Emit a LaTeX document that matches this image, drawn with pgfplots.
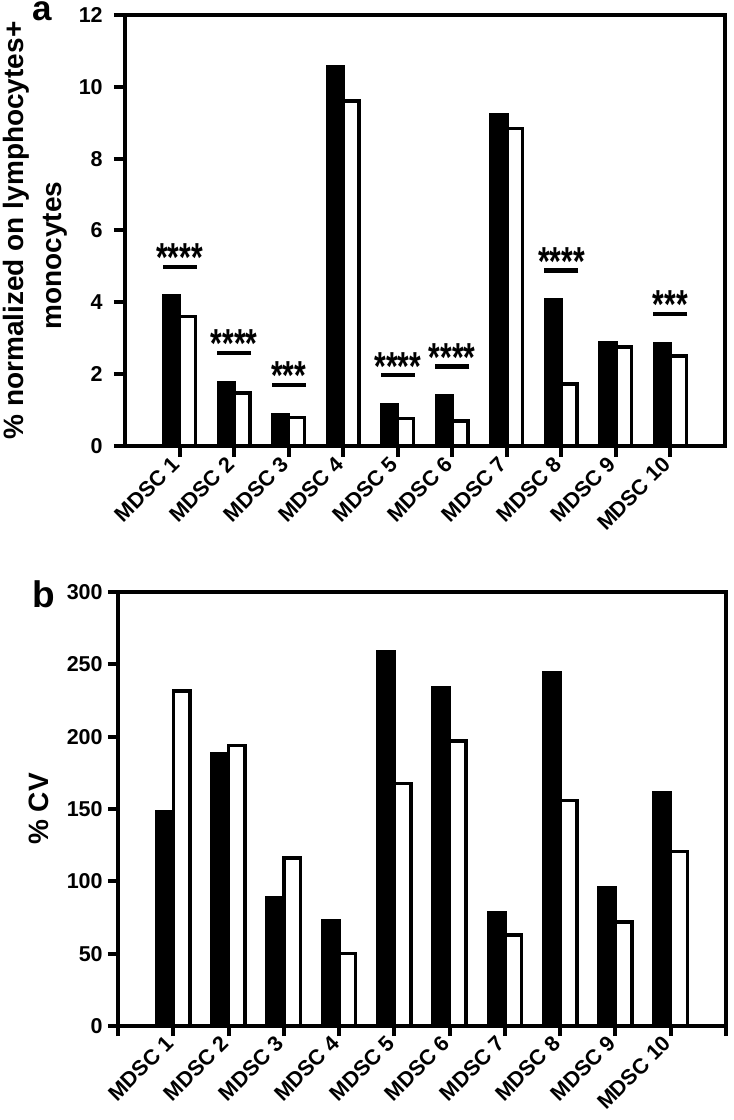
\documentclass[border=0pt]{standalone}
\usepackage{fontspec}
\setmainfont{Liberation Sans}
\usepackage{pgfplots}
\usepackage{pgfplotstable}
\pgfplotsset{compat=1.18}
\newcommand{\fs}[2]{\fontsize{#1}{#2}\selectfont\bfseries}

\pgfplotstableread{
x black white
1 4.17 3.60
2 1.77 1.47
3 0.88 0.80
4 10.56 9.60
5 1.15 0.77
6 1.40 0.70
7 9.21 8.84
8 4.06 1.72
9 2.88 2.75
10 2.86 2.50
}\dataA

\pgfplotstableread{
x y s
1 4.99 ****
2 2.59 ****
3 1.70 ***
5 1.97 ****
6 2.22 ****
8 4.88 ****
10 3.68 ***
}\sigA

\pgfplotstableread{
x black white
1 148 231.5
2 188.5 194
3 88.5 116
4 73 50
5 259 167.5
6 233.5 197
7 78 63
8 244 156
9 95.5 72
10 161 120.5
}\dataB

\begin{document}
\begin{tikzpicture}[x=1pt,y=1pt]
\useasboundingbox (0,0) rectangle (734,1120);

\begin{axis}[
  at={(125pt,674pt)}, anchor=south west,
  scale only axis, width=600pt, height=431pt,
  xmin=0, xmax=11, ymin=0, ymax=12,
  xtick={1,...,10},
  xticklabels={MDSC 1,MDSC 2,MDSC 3,MDSC 4,MDSC 5,MDSC 6,MDSC 7,MDSC 8,MDSC 9,MDSC 10},
  ytick={0,2,...,12},
  tick pos=left, tick align=outside,
  major tick length=11pt,
  major tick style={line width=4pt, black},
  line width=4pt,
  axis line style={line width=4pt},
  /pgf/number format/assume math mode=true,
  yticklabel style={font=\fs{21.5}{21.5}, xshift=-6pt},
  xticklabel style={font=\fs{21.5}{21.5}, rotate=45, anchor=east},
  ylabel={\% normalized on lymphocytes+\\monocytes\hspace*{50pt}},
  ylabel style={font=\fs{28}{38}, align=center, at={(axis description cs:-0.207,0.5)}, anchor=north, inner sep=0pt},
]
\addplot[ybar, bar width=0.29, bar shift=-0.145, fill=black, draw=black, line width=3.5pt] table[x=x,y=black]{\dataA};
\addplot[ybar, bar width=0.29, bar shift=0.145, fill=white, draw=black, line width=3.5pt] table[x=x,y=white]{\dataA};
\addplot[only marks, mark=-, mark size=17pt, mark options={line width=4.5pt, black},
  point meta=explicit symbolic,
  nodes near coords={\scalebox{1}[1.35]{\pgfplotspointmeta}},
  nodes near coords style={font=\fs{30}{30}, anchor=base, inner sep=0pt, yshift=-5pt}]
  table[x=x,y=y,meta=s]{\sigA};
\end{axis}

\begin{axis}[
  at={(118pt,94pt)}, anchor=south west,
  scale only axis, width=608pt, height=434pt,
  xmin=0, xmax=11, ymin=0, ymax=300,
  xtick={0,...,11},
  xticklabels={,MDSC 1,MDSC 2,MDSC 3,MDSC 4,MDSC 5,MDSC 6,MDSC 7,MDSC 8,MDSC 9,MDSC 10,},
  ytick={0,50,...,300},
  tick pos=left, tick align=outside,
  major tick length=10pt,
  major tick style={line width=4pt, black},
  line width=4pt,
  axis line style={line width=4pt},
  /pgf/number format/assume math mode=true,
  yticklabel style={font=\fs{21.5}{21.5}},
  xticklabel style={font=\fs{21.5}{21.5}, rotate=45, anchor=east},
  ylabel={\% CV},
  ylabel style={font=\fs{28}{28}, at={(axis description cs:-0.150,0.5)}, anchor=north, inner sep=0pt},
]
\addplot[ybar, bar width=0.3, bar shift=-0.15, fill=black, draw=black, line width=3.5pt] table[x=x,y=black]{\dataB};
\addplot[ybar, bar width=0.3, bar shift=0.15, fill=white, draw=black, line width=3.5pt] table[x=x,y=white]{\dataB};
\end{axis}

\node[font=\fs{35}{35}, anchor=base west, inner sep=0pt] at (32,1099) {a};
\node[font=\fs{37}{37}, anchor=base west, inner sep=0pt] at (32,512) {b};
\end{tikzpicture}
\end{document}
